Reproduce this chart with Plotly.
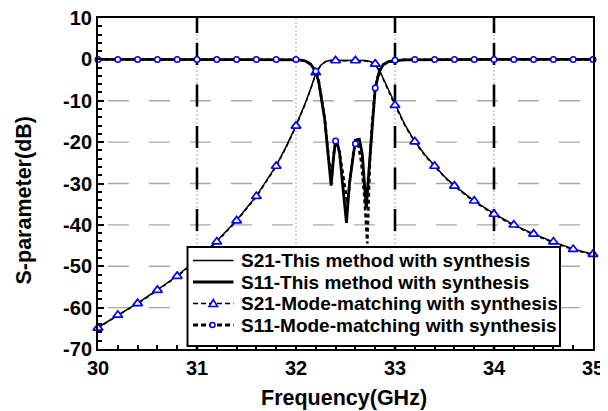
import plotly.graph_objects as go

# ---------------- data ----------------
f_mark = [30.0, 30.2, 30.4, 30.6, 30.8, 31.0, 31.2, 31.4, 31.6, 31.8, 32.0, 32.2, 32.4,
          32.6, 32.8, 33.0, 33.2, 33.4, 33.6, 33.8, 34.0, 34.2, 34.4, 34.6, 34.8, 35.0]
s21_mark = [-64.9, -61.8, -59.0, -55.8, -52.4, -48.4, -44.1, -39.0, -33.1, -25.8, -16.1, -3.2, -0.3,
            -0.3, -1.1, -11.1, -19.9, -25.8, -30.6, -34.2, -37.4, -40.0, -42.2, -44.1, -45.9, -47.1]
s11_mark = [0.0, 0.0, 0.0, 0.0, 0.0, 0.0, 0.0, 0.0, 0.0, 0.0, 0.0, -2.9, -19.7,
            -20.4, -6.9, -0.2, 0.0, 0.0, 0.0, 0.0, 0.0, 0.0, 0.0, 0.0, 0.0, 0.0]

f_s21 = [30.0, 30.2, 30.4, 30.6, 30.8, 31.0, 31.2, 31.4, 31.6, 31.8,
         31.9, 32.0, 32.05, 32.1, 32.15, 32.2,
         32.25, 32.3, 32.35, 32.4, 32.45, 32.5, 32.55, 32.6, 32.65, 32.7, 32.75, 32.8,
         32.85, 32.9, 32.95, 33.0,
         33.1, 33.2, 33.3, 33.4, 33.5, 33.6,
         33.8, 34.0, 34.2, 34.4, 34.6, 34.8, 35.0]
s21_this = [-64.8, -61.9, -58.9, -55.7, -52.3, -48.3, -43.9, -38.9, -33.0, -25.7,
            -21.1, -16.0, -13.2, -10.2, -6.9, -3.4,
            -1.4, -0.5, -0.2, -0.2, -0.3, -0.3, -0.2, -0.2, -0.3, -0.3, -0.5, -1.2,
            -3.0, -5.6, -8.4, -11.0,
            -15.8, -19.8, -23.0, -25.7, -28.3, -30.5,
            -34.2, -37.3, -40.0, -42.2, -44.1, -45.8, -47.1]
s21_mm = [-65.0, -61.8, -59.1, -55.9, -52.5, -48.5, -44.1, -39.1, -33.2, -25.9,
          -21.3, -16.2, -13.4, -10.4, -7.1, -3.5,
          -1.5, -0.5, -0.3, -0.3, -0.3, -0.4, -0.3, -0.3, -0.3, -0.4, -0.6, -1.2,
          -3.1, -5.8, -8.6, -11.2,
          -16.0, -20.0, -23.2, -25.9, -28.5, -30.7,
          -34.4, -37.5, -40.2, -42.4, -44.3, -46.0, -47.3]

f_s11 = [30.0, 30.5, 31.0, 31.5, 31.8, 32.0,
         32.05, 32.1, 32.15, 32.2,
         32.23, 32.26, 32.29, 32.31, 32.33, 32.355, 32.38, 32.40,
         32.42, 32.44, 32.47, 32.51, 32.54, 32.57, 32.6,
         32.64, 32.67, 32.69, 32.71, 32.73, 32.75, 32.77, 32.79, 32.8,
         32.84, 32.88, 32.93, 33.0,
         33.1, 33.5, 34.0, 34.5, 35.0]
s11_this = [0.0, 0.0, 0.0, 0.0, -0.05, -0.1,
            -0.2, -0.45, -1.2, -3.0,
            -5.5, -9.8, -14.5, -19.5, -24.5, -30.5, -23.5, -19.7,
            -20.5, -22.5, -30.0, -39.5, -30.0, -24.0, -19.5,
            -19.3, -23.0, -29.5, -36.0, -29.0, -22.0, -15.5, -9.5, -7.0,
            -3.0, -1.3, -0.6, -0.3,
            -0.1, 0.0, 0.0, 0.0, 0.0]

f_s11_mm = [30.0, 30.5, 31.0, 31.5, 31.8, 32.0,
            32.05, 32.1, 32.15, 32.2,
            32.23, 32.26, 32.29, 32.31, 32.33, 32.36, 32.38, 32.40,
            32.43, 32.46, 32.49, 32.52, 32.55, 32.58, 32.6,
            32.63, 32.66, 32.69, 32.72, 32.735, 32.75, 32.77, 32.79, 32.8,
            32.84, 32.88, 32.93, 33.0,
            33.1, 33.5, 34.0, 34.5, 35.0]
s11_mm = [0.0, 0.0, 0.0, 0.0, -0.05, -0.1,
          -0.2, -0.45, -1.2, -2.9,
          -5.3, -9.6, -14.2, -19.0, -23.8, -29.0, -23.0, -19.8,
          -21.5, -25.5, -30.5, -35.0, -28.0, -22.5, -20.4,
          -20.8, -25.0, -33.0, -44.5, -32.0, -22.5, -15.0, -9.2, -6.9,
          -2.9, -1.3, -0.6, -0.3,
          -0.1, 0.0, 0.0, 0.0, 0.0]

legend_labels = ["S21-This method with synthesis",
                 "S11-This method with synthesis",
                 "S21-Mode-matching with synthesis",
                 "S11-Mode-matching with synthesis"]

x_ticks = [30, 31, 32, 33, 34, 35]
y_ticks = [-70, -60, -50, -40, -30, -20, -10, 0, 10]
h_grid = [-60, -50, -40, -30, -20, -10]
v_grid = [31, 32, 33, 34]
v_black = [31, 33, 34]

# ---------------- layout constants ----------------
# the page body has an 8px margin; margins are chosen so the plot area
# lands at page x 98..593, y 18..349
OFF = 8
PL, PR, PT, PB = 98, 593, 18, 349          # plot area in page pixels
W, H = 608, 411                            # figure size
L, T = PL - OFF, PT - OFF
R, B = W - (PR - OFF), H - (PB - OFF)
PW, PH = PR - PL, PB - PT
FONT = "Liberation Sans, Arial, Helvetica, sans-serif"
BLUE = "#0000ff"


def px(x):
    return (x - PL) / PW


def py(y):
    return (PB - y) / PH


fig = go.Figure()

# solid curves (this method)
fig.add_trace(go.Scatter(x=f_s21, y=s21_this, mode="lines",
                         line=dict(color="black", width=1.5), showlegend=False))
fig.add_trace(go.Scatter(x=f_s11, y=s11_this, mode="lines",
                         line=dict(color="black", width=2.8), showlegend=False))
# dashed curves (mode matching)
fig.add_trace(go.Scatter(x=f_s21, y=s21_mm, mode="lines",
                         line=dict(color="black", width=1.5, dash="4px,3px"), showlegend=False))
fig.add_trace(go.Scatter(x=f_s11_mm, y=s11_mm, mode="lines",
                         line=dict(color="black", width=2.6, dash="4px,3px"), showlegend=False))
# markers (mode matching)
fig.add_trace(go.Scatter(x=f_mark, y=s21_mark, mode="markers", cliponaxis=False,
                         marker=dict(symbol="triangle-up", size=8.5, color="white",
                                     line=dict(color=BLUE, width=1.7)), showlegend=False))
fig.add_trace(go.Scatter(x=f_mark, y=s11_mark, mode="markers", cliponaxis=False,
                         marker=dict(symbol="circle", size=5.5, color="white",
                                     line=dict(color=BLUE, width=1.5)), showlegend=False))

shapes = []
# horizontal dashed grid
for g in h_grid:
    shapes.append(dict(type="line", xref="x", yref="y", x0=30.1, x1=35, y0=g, y1=g,
                       line=dict(color="#a8a8a8", width=1.3, dash="21px,20px"), layer="below"))
# vertical dotted grid
for g in v_grid:
    shapes.append(dict(type="line", xref="x", yref="y", x0=g, x1=g, y0=10, y1=-70,
                       line=dict(color="#c4c4c4", width=1.5, dash="2px,2px"), layer="below"))
# black long-dash vertical lines
black_dash = "15px,10px," + ",".join(["22px,19.5px"] * 8)
for g in v_black:
    shapes.append(dict(type="line", xref="x", yref="y", x0=g, x1=g, y0=10, y1=-70,
                       line=dict(color="black", width=2.6, dash=black_dash), layer="below"))

# manual legend (page pixel positions)
lg_l, lg_r, lg_t, lg_b = 187.5, 560, 247, 346
shapes.append(dict(type="rect", xref="paper", yref="paper",
                   x0=px(lg_l), x1=px(lg_r), y0=py(lg_b), y1=py(lg_t),
                   fillcolor="white", line=dict(color="black", width=2), layer="above"))
rows_y = [260.5, 282.0, 303.5, 325.0]
styles = [dict(width=1.5), dict(width=3.2), dict(width=1.5, dash="5px,3px"), dict(width=3.2, dash="5px,3px")]
for ry, st in zip(rows_y, styles):
    shapes.append(dict(type="line", xref="paper", yref="paper",
                       x0=px(193), x1=px(233.5), y0=py(ry), y1=py(ry),
                       line=dict(color="black", **st), layer="above"))
# legend symbols
tx, ty = 213.3, rows_y[2]
shapes.append(dict(type="path", xref="paper", yref="paper",
                   path=f"M {px(tx)},{py(ty - 4)} L {px(tx - 4.2)},{py(ty + 3)} L {px(tx + 4.2)},{py(ty + 3)} Z",
                   fillcolor="white", line=dict(color=BLUE, width=1.6), layer="above"))
cx, cy = 212.5, rows_y[3]
shapes.append(dict(type="circle", xref="paper", yref="paper",
                   x0=px(cx - 2.5), x1=px(cx + 2.5), y0=py(cy + 2.5), y1=py(cy - 2.5),
                   fillcolor="white", line=dict(color=BLUE, width=1.5), layer="above"))

annotations = []
for ry, lab in zip(rows_y, legend_labels):
    annotations.append(dict(xref="paper", yref="paper", x=px(238.5), y=py(ry), text=lab,
                            showarrow=False, xanchor="left", yanchor="middle",
                            font=dict(family=FONT, size=19, color="black", weight="bold")))
# axis titles
annotations.append(dict(xref="paper", yref="paper", x=px(344), y=py(398), text="Frequency(GHz)",
                        showarrow=False, xanchor="center", yanchor="middle",
                        font=dict(family=FONT, size=21.5, color="black", weight="bold")))
annotations.append(dict(xref="paper", yref="paper", x=px(23.5), y=py(201), text="S-parameter(dB)",
                        showarrow=False, xanchor="center", yanchor="middle", textangle=-90,
                        font=dict(family=FONT, size=21.5, color="black", weight="bold")))

tickfont = dict(family=FONT, size=20, color="black", weight="bold")
fig.update_layout(
    width=W, height=H,
    margin=dict(l=L, r=R, t=T, b=B, pad=0),
    paper_bgcolor="white", plot_bgcolor="white",
    showlegend=False,
    shapes=shapes, annotations=annotations,
    xaxis=dict(range=[30, 35], tickvals=x_ticks, ticktext=[str(v) for v in x_ticks],
               ticks="inside", ticklen=6, tickwidth=2, tickcolor="black",
               minor=dict(dtick=0.2, tick0=30, ticks="inside", ticklen=4, tickwidth=1.5, tickcolor="black"),
               showgrid=False, zeroline=False, showline=True, linecolor="black", linewidth=2,
               mirror=True, tickfont=tickfont, automargin=False, ticklabeloverflow="allow"),
    yaxis=dict(range=[-70, 10], tickvals=y_ticks, ticktext=[str(v) for v in y_ticks],
               ticks="inside", ticklen=6, tickwidth=2, tickcolor="black",
               minor=dict(dtick=2, tick0=0, ticks="inside", ticklen=4, tickwidth=1.5, tickcolor="black"),
               showgrid=False, zeroline=False, showline=True, linecolor="black", linewidth=2,
               mirror=True, tickfont=tickfont, automargin=False, ticklabeloverflow="allow"),
)

fig.write_html("out.html")
